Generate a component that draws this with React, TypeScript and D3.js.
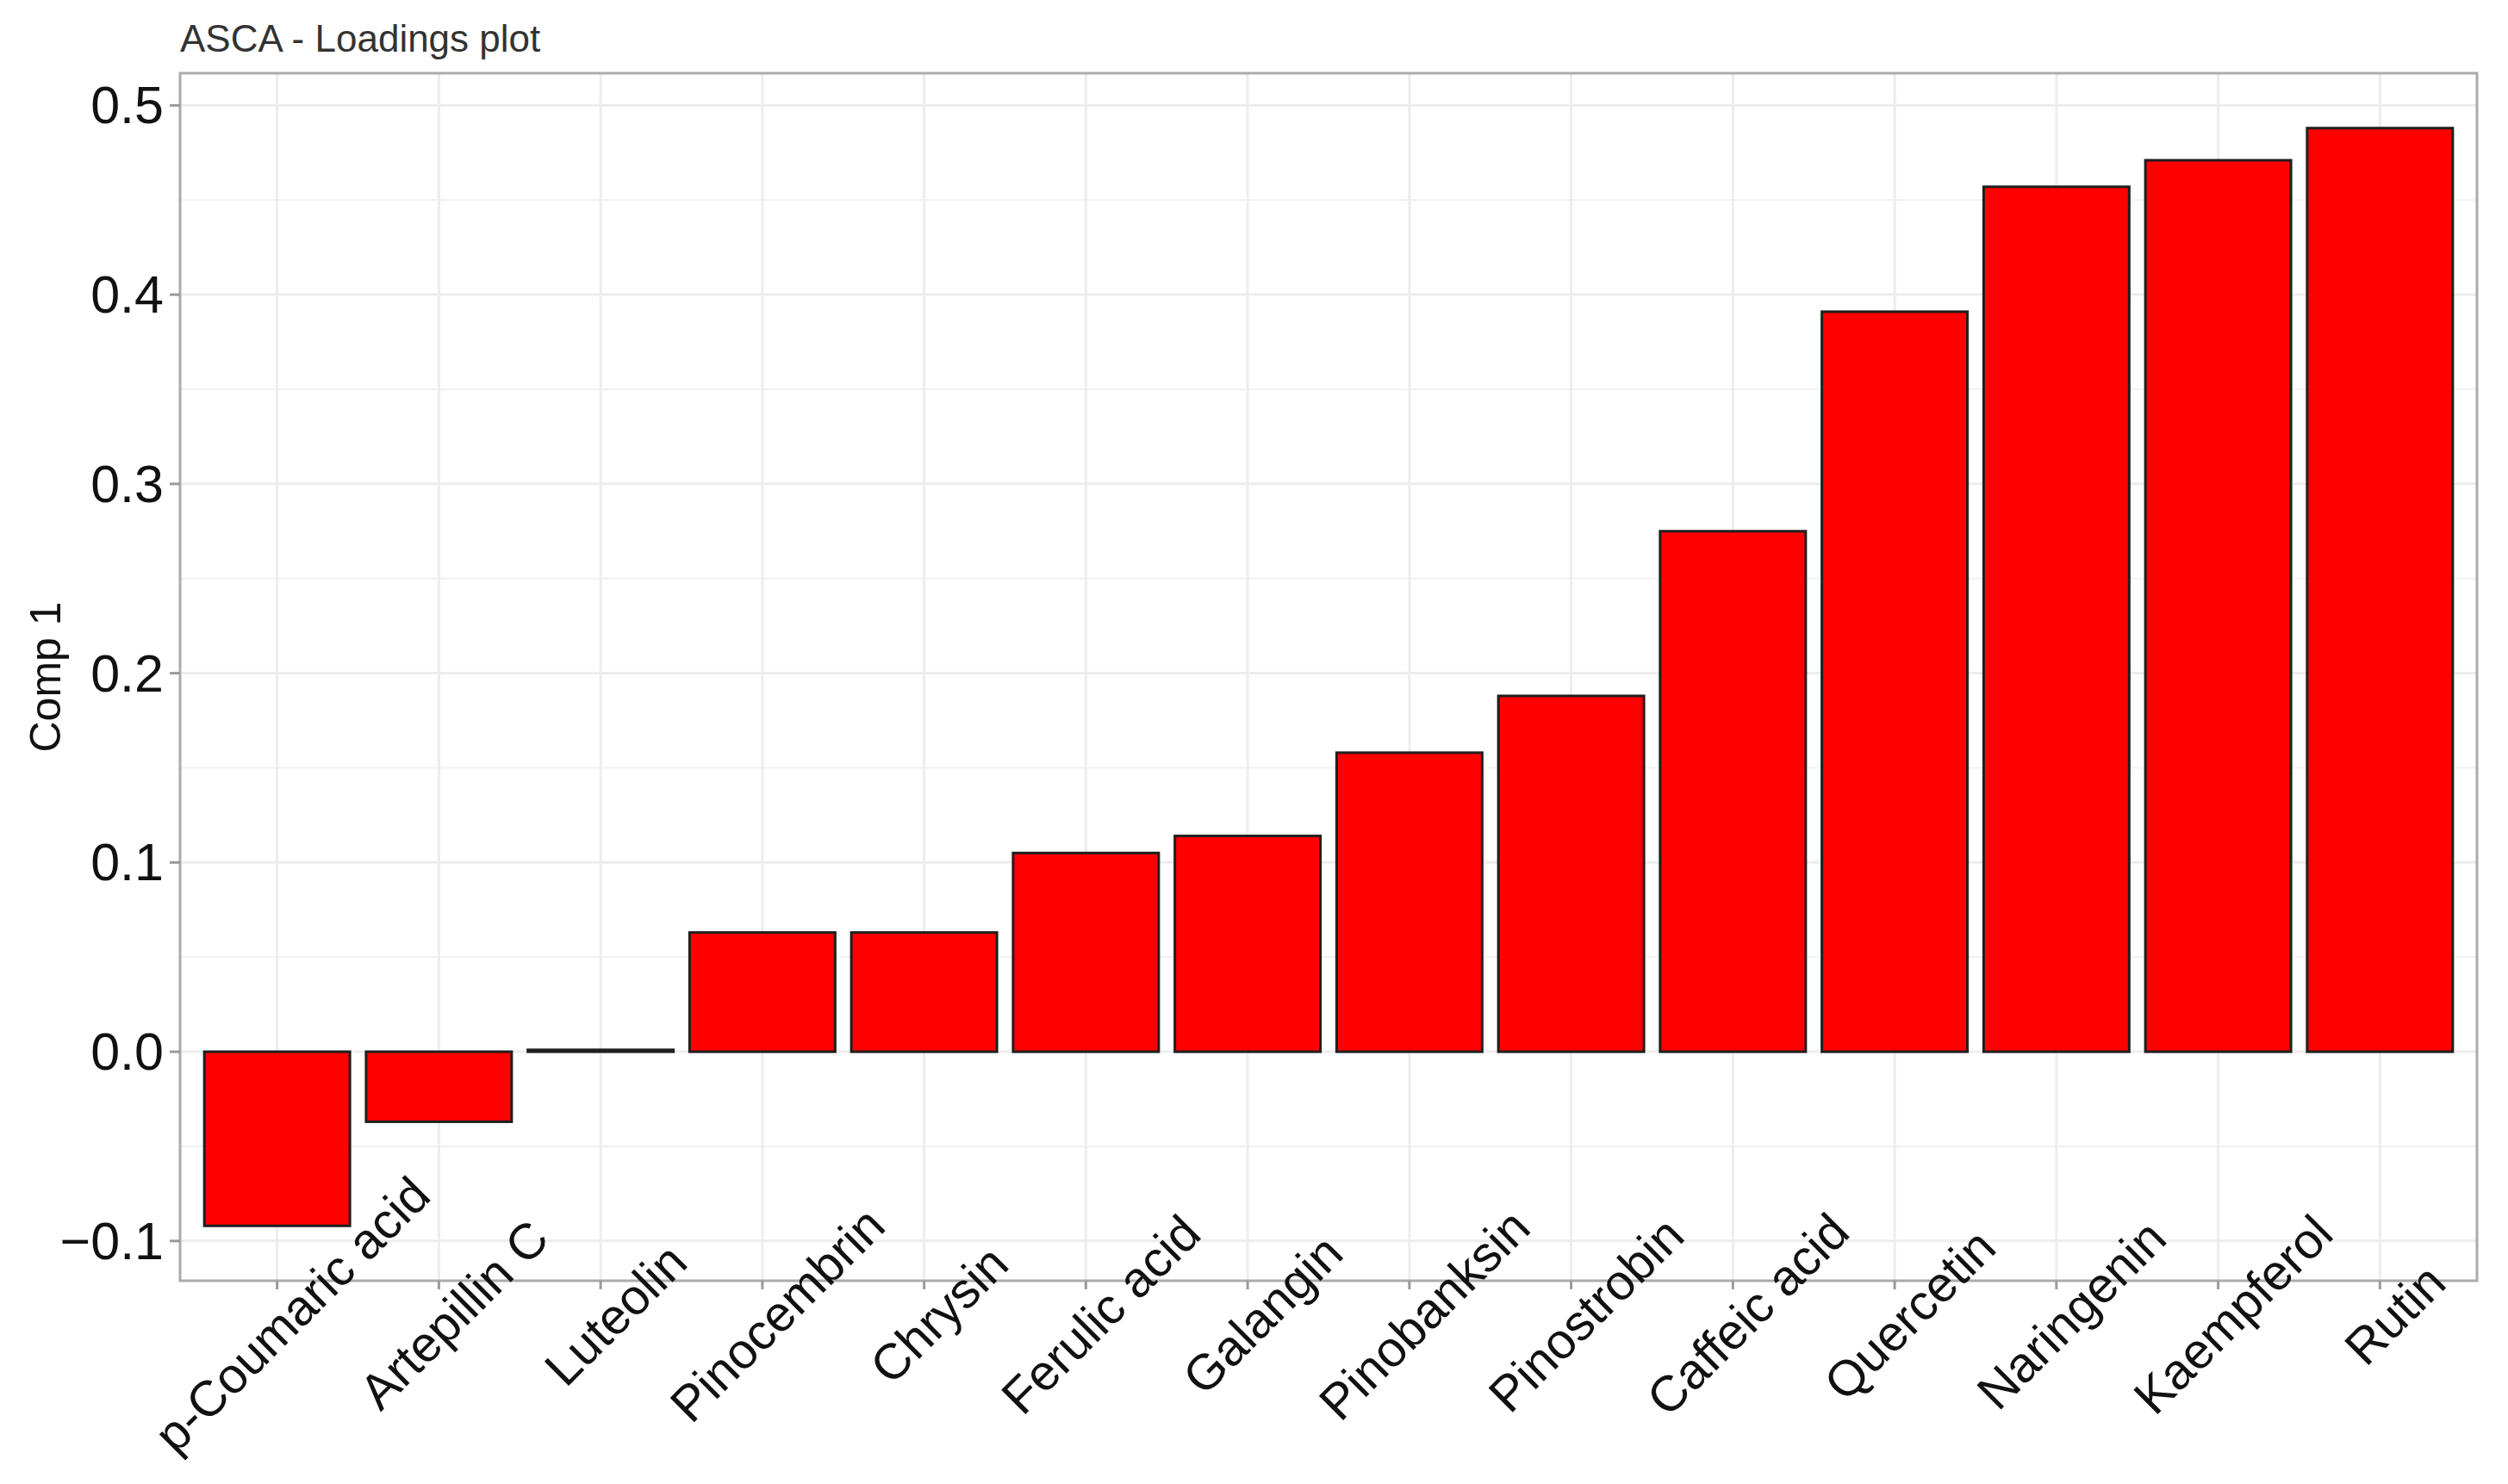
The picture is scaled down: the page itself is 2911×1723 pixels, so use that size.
// ASCA loadings bar chart (Comp 1)
import React from 'react';
import * as d3 from 'd3';

const compounds = [
  'p-Coumaric acid', 'Artepillin C', 'Luteolin', 'Pinocembrin', 'Chrysin',
  'Ferulic acid', 'Galangin', 'Pinobanksin', 'Pinostrobin', 'Caffeic acid',
  'Quercetin', 'Naringenin', 'Kaempferol', 'Rutin'
];
const comp1 = [
  -0.092, -0.037, 0.001, 0.063, 0.063,
  0.105, 0.114, 0.158, 0.188, 0.275,
  0.391, 0.457, 0.471, 0.488
];
const yTicks = [-0.1, 0, 0.1, 0.2, 0.3, 0.4, 0.5];

const W = 2911;
const H = 1723;
const margin = { left: 209, right: W - 2875, top: 85, bottom: H - 1487 };
const FONT = "'Liberation Sans', Arial, Helvetica, sans-serif";

const App: React.FC = () => {
  const x0 = margin.left;
  const x1 = W - margin.right;
  const y0 = margin.top;
  const y1 = H - margin.bottom;

  // ggplot style discrete scale: 0.9 wide bars, 0.6 unit expansion each side
  const x = d3.scaleBand<string>()
    .domain(compounds)
    .range([x0, x1])
    .paddingInner(0.1)
    .paddingOuter(0.15);

  const lo = d3.min(comp1) as number;
  const hi = d3.max(comp1) as number;
  const pad = (hi - lo) * 0.05;
  const y = d3.scaleLinear().domain([lo - pad, hi + pad]).range([y1, y0]);

  const minorTicks = d3.pairs(yTicks).map(([a, b]) => (a + b) / 2);
  const fmt = d3.format('.1f');
  const center = (c: string) => (x(c) as number) + x.bandwidth() / 2;

  return (
    <svg
      width={W}
      height={H}
      style={{ position: 'absolute', left: 0, top: 0, background: '#fff' }}
      fontFamily={FONT}
    >
      <rect x={0} y={0} width={W} height={H} fill="#fff" />

      {/* title */}
      <text x={x0} y={60} fontSize={44} fill="#333">ASCA - Loadings plot</text>

      {/* grid */}
      {minorTicks.map(t => (
        <line key={'mn' + t} x1={x0} x2={x1} y1={y(t)} y2={y(t)} stroke="#f1f1f1" strokeWidth={1.8} />
      ))}
      {yTicks.map(t => (
        <line key={'mj' + t} x1={x0} x2={x1} y1={y(t)} y2={y(t)} stroke="#ededed" strokeWidth={3} />
      ))}
      {compounds.map(c => (
        <line key={'vg' + c} x1={center(c)} x2={center(c)} y1={y0} y2={y1} stroke="#ededed" strokeWidth={3} />
      ))}

      {/* bars */}
      {compounds.map((c, i) => {
        const v = comp1[i];
        const top = y(Math.max(0, v));
        const bot = y(Math.min(0, v));
        return (
          <rect
            key={'b' + c}
            x={x(c)}
            y={top}
            width={x.bandwidth()}
            height={Math.max(0.5, bot - top)}
            fill="#ff0000"
            stroke="#1f1f1f"
            strokeWidth={3}
          />
        );
      })}

      {/* panel border */}
      <rect x={x0} y={y0} width={x1 - x0} height={y1 - y0} fill="none" stroke="#ababab" strokeWidth={3} />

      {/* y axis */}
      {yTicks.map(t => (
        <g key={'yt' + t}>
          <line x1={x0 - 12} x2={x0} y1={y(t)} y2={y(t)} stroke="#9a9a9a" strokeWidth={3} />
          <text
            x={x0 - 19}
            y={y(t)}
            textAnchor="end"
            dominantBaseline="central"
            fontSize={61}
            fill="#111"
          >
            {fmt(t)}
          </text>
        </g>
      ))}
      <text
        transform={`translate(70,${(y0 + y1) / 2}) rotate(-90)`}
        textAnchor="middle"
        fontSize={50}
        fill="#111"
      >
        Comp 1
      </text>

      {/* x axis */}
      {compounds.map(c => (
        <g key={'xt' + c}>
          <line x1={center(c)} x2={center(c)} y1={y1} y2={y1 + 10} stroke="#9a9a9a" strokeWidth={3} />
          <text
            transform={`translate(${center(c) + 17},${y1 + 39}) rotate(-45)`}
            textAnchor="middle"
            dominantBaseline="central"
            fontSize={58}
            fill="#111"
          >
            {c}
          </text>
        </g>
      ))}
    </svg>
  );
};

export default App;
